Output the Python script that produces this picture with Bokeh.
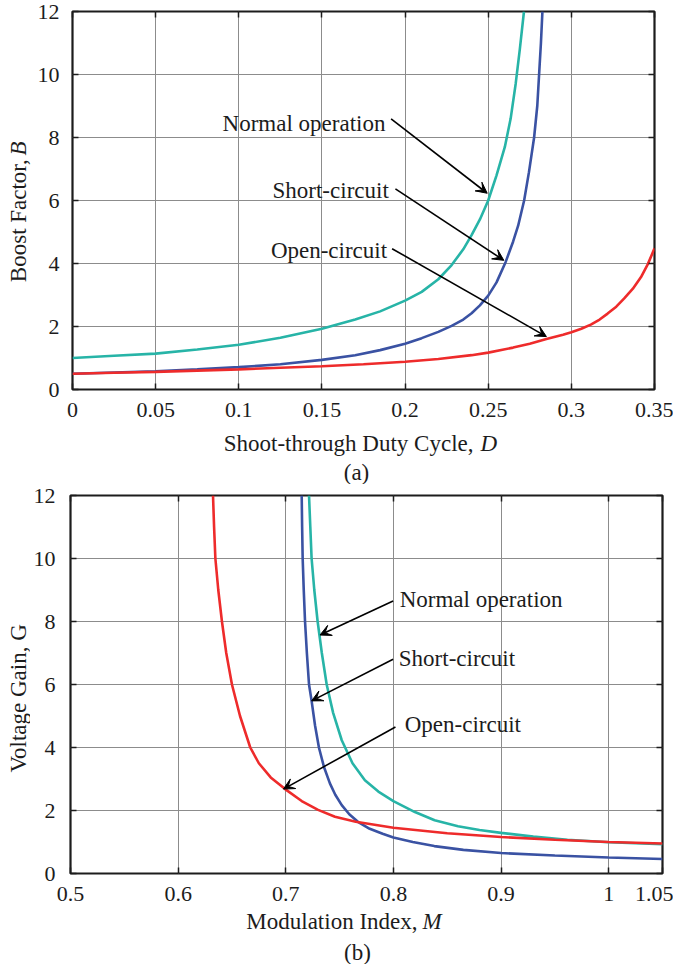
import math
from bokeh.plotting import figure
from bokeh.models import Range1d, LinearAxis, FixedTicker, Label, Arrow, VeeHead
from bokeh.layouts import column, row
from bokeh.embed import file_html
from bokeh.resources import INLINE

# ---------------- data: (a) boost factor vs shoot-through duty cycle ----------------
D_normal = [0.0, 0.025, 0.05, 0.075, 0.1, 0.125, 0.15, 0.17, 0.185, 0.2, 0.21, 0.22, 0.228, 0.235,
            0.24, 0.245, 0.25, 0.255, 0.26, 0.2635, 0.2665, 0.269, 0.2715]
B_normal = [1.0, 1.07, 1.14, 1.27, 1.42, 1.64, 1.93, 2.22, 2.48, 2.82, 3.1, 3.5, 3.95, 4.45,
            4.9, 5.4, 6.0, 6.8, 7.7, 8.6, 9.7, 10.8, 12.0]

D_short = [0.0, 0.025, 0.05, 0.075, 0.1, 0.125, 0.15, 0.17, 0.185, 0.2, 0.21, 0.22, 0.228, 0.235,
           0.24, 0.245, 0.25, 0.255, 0.2605, 0.265, 0.268, 0.2716, 0.2745, 0.2776, 0.2795, 0.2806,
           0.2817, 0.2826]
B_short = [0.5, 0.54, 0.58, 0.64, 0.71, 0.8, 0.94, 1.09, 1.25, 1.45, 1.63, 1.83, 2.02, 2.22,
           2.42, 2.67, 2.98, 3.4, 4.05, 4.7, 5.2, 6.0, 6.9, 8.0, 9.0, 10.0, 11.0, 12.0]

D_open = [0.0, 0.025, 0.05, 0.075, 0.1, 0.125, 0.15, 0.175, 0.2, 0.22, 0.24, 0.25, 0.265, 0.275,
          0.285, 0.295, 0.3, 0.306, 0.3117, 0.317, 0.3218, 0.327, 0.3318, 0.337, 0.3419, 0.346, 0.35]
B_open = [0.5, 0.53, 0.56, 0.6, 0.64, 0.69, 0.74, 0.8, 0.88, 0.97, 1.09, 1.17, 1.33, 1.45,
          1.6, 1.74, 1.82, 1.93, 2.06, 2.22, 2.41, 2.63, 2.89, 3.2, 3.57, 3.98, 4.48]

D_ticks = [0, 0.05, 0.1, 0.15, 0.2, 0.25, 0.3, 0.35]
D_tick_labels = ["0", "0.05", "0.1", "0.15", "0.2", "0.25", "0.3", "0.35"]
B_ticks = [0, 2, 4, 6, 8, 10, 12]
B_tick_labels = ["0", "2", "4", "6", "8", "10", "12"]

# ---------------- data: (b) voltage gain vs modulation index ----------------
M_normal = [0.7216, 0.7228, 0.724, 0.7265, 0.7296, 0.7335, 0.738, 0.744, 0.752, 0.762, 0.7735,
            0.786, 0.8, 0.82, 0.8383, 0.86, 0.88, 0.9, 0.93, 0.9617, 1.0, 1.025, 1.05]
G_normal = [12.0, 11.0, 10.0, 9.0, 8.0, 7.0, 6.0, 5.1, 4.23, 3.5, 2.96,
            2.6, 2.3, 1.95, 1.69, 1.5, 1.38, 1.29, 1.17, 1.07, 0.99, 0.96, 0.93]

M_short = [0.7148, 0.7152, 0.7157, 0.7167, 0.7179, 0.7196, 0.7216, 0.724, 0.7272, 0.7308, 0.7355,
           0.741, 0.746, 0.752, 0.759, 0.767, 0.778, 0.79, 0.8, 0.818, 0.838, 0.865, 0.9, 0.95,
           1.0, 1.05]
G_short = [12.0, 11.0, 10.0, 9.0, 8.0, 7.0, 6.0, 5.48, 4.7, 4.0, 3.38,
           2.86, 2.5, 2.17, 1.88, 1.64, 1.42, 1.26, 1.14, 1.0, 0.87, 0.75, 0.65, 0.57,
           0.51, 0.46]

M_open = [0.6324, 0.6334, 0.6346, 0.6373, 0.6407, 0.6447, 0.65, 0.6575, 0.667, 0.675, 0.686,
          0.6994, 0.7148, 0.73, 0.7457, 0.765, 0.8, 0.85, 0.9, 0.95, 1.0, 1.05]
G_open = [12.0, 11.0, 10.0, 9.0, 8.0, 7.0, 6.0, 5.0, 4.0, 3.5, 3.05,
          2.68, 2.3, 2.02, 1.8, 1.64, 1.45, 1.28, 1.16, 1.07, 1.0, 0.95]

M_ticks = [0.5, 0.6, 0.7, 0.8, 0.9, 1.0, 1.05]
M_tick_labels = ["0.5", "0.6", "0.7", "0.8", "0.9", "1", "1.05"]
G_ticks = [0, 2, 4, 6, 8, 10, 12]
G_tick_labels = ["0", "2", "4", "6", "8", "10", "12"]

series_names = ["Normal operation", "Short-circuit", "Open-circuit"]

# annotation anchors (data units): text position and arrow start/end
a_text_x = [0.1882, 0.1902, 0.1892]
a_text_y = [8.44, 6.32, 4.41]
a_arrow_x0 = [0.1916, 0.1942, 0.1922]
a_arrow_y0 = [8.59, 6.37, 4.47]
a_arrow_x1 = [0.2494, 0.2594, 0.2850]
a_arrow_y1 = [6.23, 4.10, 1.68]

b_text_x = [0.8058, 0.8050, 0.8105]
b_text_y = [8.70, 6.83, 4.73]
b_arrow_x0 = [0.7997, 0.7997, 0.8019]
b_arrow_y0 = [8.65, 6.80, 4.65]
b_arrow_x1 = [0.7318, 0.7240, 0.6978]
b_arrow_y1 = [7.57, 5.48, 2.68]

TEAL = "#27B4A7"
BLUE = "#3A52A3"
RED = "#EE2B2B"
INK = "#1c1c1c"
FONT = "Liberation Serif"
TICK_SIZE = "22px"
TEXT_SIZE = "23px"


def style_axis(ax, ticks, labels, show_labels, standoff=13):
    ax.ticker = FixedTicker(ticks=ticks)
    ax.major_label_overrides = {t: l for t, l in zip(ticks, labels)}
    ax.axis_line_color = None
    ax.major_tick_in = 6
    ax.major_tick_out = 0
    ax.major_tick_line_color = INK
    ax.major_tick_line_width = 1.5
    ax.minor_tick_line_color = None
    ax.major_label_text_font = FONT
    if show_labels:
        ax.major_label_text_color = INK
        ax.major_label_text_font_size = TICK_SIZE
        ax.major_label_standoff = standoff
    else:
        ax.major_label_text_color = None
        ax.major_label_text_font_size = "1px"
        ax.major_label_standoff = 0


def make_fig(width, height, xr, yr, xt, xl, yt, yl, bl, br, bt, bb, ystand):
    p = figure(width=width, height=height, x_range=Range1d(*xr), y_range=Range1d(*yr),
               output_backend="svg", toolbar_location=None,
               min_border_left=bl, min_border_right=br, min_border_top=bt, min_border_bottom=bb)
    p.outline_line_color = INK
    p.outline_line_width = 2.2
    p.background_fill_color = "white"
    p.border_fill_color = "white"
    style_axis(p.xaxis[0], xt, xl, True, 13)
    style_axis(p.yaxis[0], yt, yl, True, ystand)
    top = LinearAxis()
    style_axis(top, xt, xl, False)
    p.add_layout(top, "above")
    right = LinearAxis()
    style_axis(right, yt, yl, False)
    p.add_layout(right, "right")
    p.xgrid.ticker = FixedTicker(ticks=xt)
    p.ygrid.ticker = FixedTicker(ticks=yt)
    for g in (p.xgrid[0], p.ygrid[0]):
        g.grid_line_color = "#8c8c8c"
        g.grid_line_width = 1
    return p


def label_fig(width, height):
    f = figure(width=width, height=height, x_range=Range1d(0, width), y_range=Range1d(0, height),
               x_axis_location=None, y_axis_location=None, output_backend="svg",
               toolbar_location=None, min_border=0)
    f.outline_line_color = None
    f.background_fill_color = "white"
    f.border_fill_color = "white"
    for g in f.grid:
        g.visible = False
    return f


def add_text(p, x, y, text, align, **kw):
    p.add_layout(Label(x=x, y=y, text=text, text_font=FONT, text_font_size=kw.pop("size", TEXT_SIZE),
                       text_color=INK, text_align=align, text_baseline="middle", **kw))


# ---------------- figure (a) ----------------
p1 = make_fig(639, 425, (0, 0.35), (0, 12), D_ticks, D_tick_labels, B_ticks, B_tick_labels,
              38, 19, 11, 36, 13)
p1.line(D_normal, B_normal, line_color=TEAL, line_width=2.6)
p1.line(D_short, B_short, line_color=BLUE, line_width=2.6)
p1.line(D_open, B_open, line_color=RED, line_width=2.6)

for i in range(3):
    add_text(p1, a_text_x[i], a_text_y[i], series_names[i], "right")
    p1.add_layout(Arrow(x_start=a_arrow_x0[i], y_start=a_arrow_y0[i], x_end=a_arrow_x1[i], y_end=a_arrow_y1[i],
                        line_color="black", line_width=1.6,
                        end=VeeHead(size=11, fill_color="black", line_color="black", line_width=1)))

ylab1 = label_fig(34, 425)
add_text(ylab1, 18, 259, "Boost Factor,", "right", angle=math.pi / 2)
add_text(ylab1, 18, 263, "B", "left", angle=math.pi / 2, text_font_style="italic")

xlab1 = label_fig(673, 59)
add_text(xlab1, 473, 41, "Shoot-through Duty Cycle,", "right")
add_text(xlab1, 480, 41, "D", "left", text_font_style="italic")
add_text(xlab1, 356, 12, "(a)", "center")

# ---------------- figure (b) ----------------
p2 = make_fig(643, 421, (0.5, 1.05), (0, 12), M_ticks, M_tick_labels, G_ticks, G_tick_labels,
              38, 11, 11, 32, 15)
p2.line(M_normal, G_normal, line_color=TEAL, line_width=2.6)
p2.line(M_short, G_short, line_color=BLUE, line_width=2.6)
p2.line(M_open, G_open, line_color=RED, line_width=2.6)

for i in range(3):
    add_text(p2, b_text_x[i], b_text_y[i], series_names[i], "left")
    p2.add_layout(Arrow(x_start=b_arrow_x0[i], y_start=b_arrow_y0[i], x_end=b_arrow_x1[i], y_end=b_arrow_y1[i],
                        line_color="black", line_width=1.6,
                        end=VeeHead(size=11, fill_color="black", line_color="black", line_width=1)))

ylab2 = label_fig(30, 421)
add_text(ylab2, 18, 195, "Voltage Gain, G", "center", angle=math.pi / 2)

xlab2 = label_fig(673, 59)
add_text(xlab2, 417, 43, "Modulation Index,", "right")
add_text(xlab2, 422, 43, "M", "left", text_font_style="italic")
add_text(xlab2, 357, 12, "(b)", "center")

layout = column(row(ylab1, p1, spacing=0), xlab1, row(ylab2, p2, spacing=0), xlab2, spacing=0)
open("out.html", "w").write(file_html(layout, INLINE))
